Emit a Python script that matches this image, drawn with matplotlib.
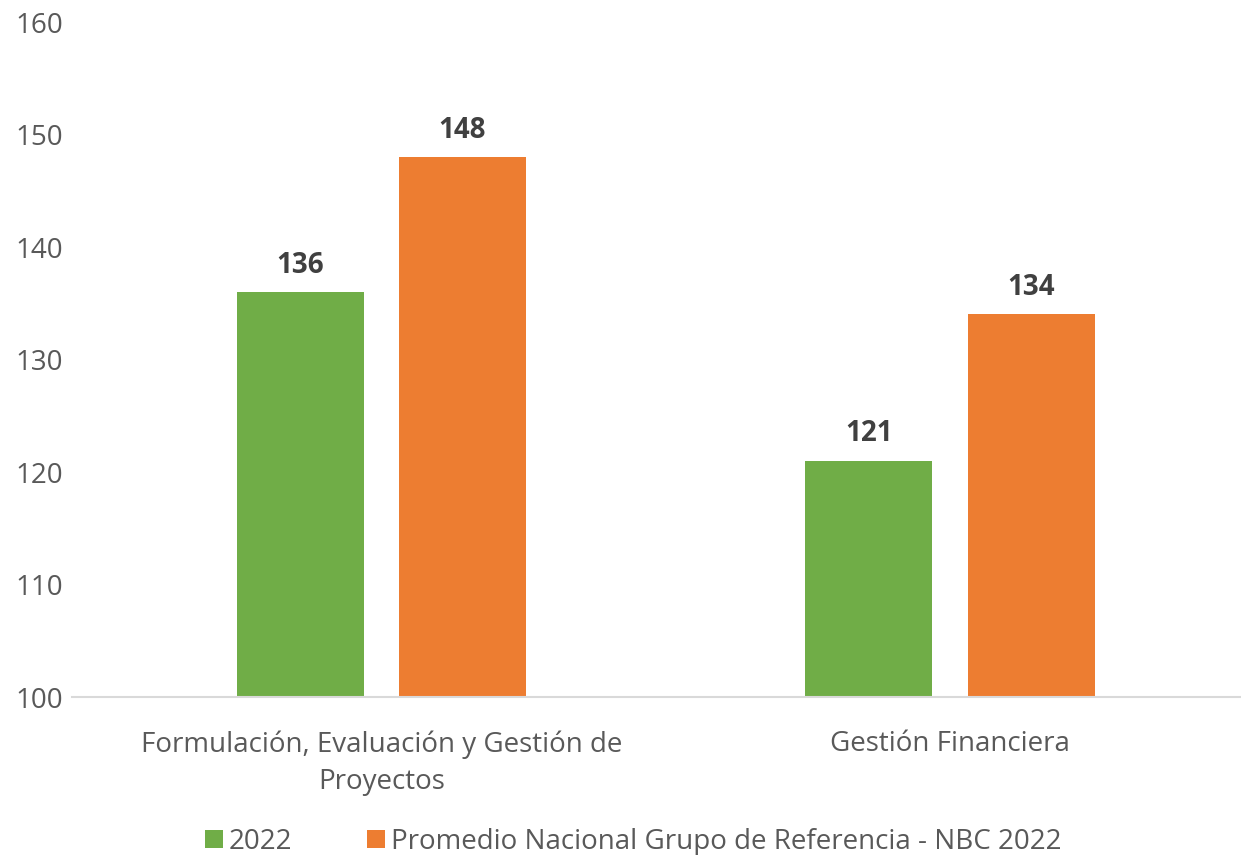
import matplotlib.pyplot as plt
import numpy as np

categories = ["Formulación, Evaluación y Gestión de\nProyectos", "Gestión Financiera"]
series_names = ["2022", "Promedio Nacional Grupo de Referencia - NBC 2022"]
values_2022 = [136, 121]
values_promedio = [148, 134]
y_ticks = [100, 110, 120, 130, 140, 150, 160]

green = "#70AD47"
orange = "#ED7D31"
text_grey = "#595959"

plt.rcParams['font.family'] = ['Open Sans', 'DejaVu Sans']

fig = plt.figure(figsize=(12.41, 8.55), dpi=100)
ax = fig.add_axes([72 / 1241, 158 / 855, 1169 / 1241, 675 / 855])

x = np.arange(len(categories))
w = 0.2234
off = 0.1428
b1 = ax.bar(x - off, np.array(values_2022) - 100, w, bottom=100, color=green, label=series_names[0])
b2 = ax.bar(x + off, np.array(values_promedio) - 100, w, bottom=100, color=orange, label=series_names[1])

for bars, vals in [(b1, values_2022), (b2, values_promedio)]:
    for rect, v in zip(bars, vals):
        ax.annotate(str(v), (rect.get_x() + rect.get_width() / 2, v),
                    xytext=(0, 9), textcoords="offset points",
                    ha="center", va="bottom", fontsize=20, fontweight="bold",
                    color="#404040")

ax.set_ylim(100, 160)
ax.set_xlim(-0.544, 1.512)
ax.set_yticks(y_ticks)
ax.set_xticks(x)
ax.set_xticklabels(categories, fontsize=20, color=text_grey, linespacing=1.45)
ax.tick_params(axis="y", labelsize=20, labelcolor=text_grey, length=0)
ax.tick_params(axis="x", length=0, pad=24)
for lbl in ax.get_yticklabels():
    lbl.set_horizontalalignment("left")
    lbl.set_x(-52 / 1169)

for s in ["top", "right", "left"]:
    ax.spines[s].set_visible(False)
ax.spines["bottom"].set_color("#D9D9D9")
ax.spines["bottom"].set_linewidth(1.5)
ax.set_facecolor("none")

fig.legend(handles=[b1, b2], labels=series_names, loc="lower center",
           bbox_to_anchor=(0.51, -0.03), ncol=2, frameon=False,
           fontsize=20, labelcolor=text_grey, handlelength=0.65, handleheight=0.65,
           handletextpad=0.2, columnspacing=2.7)

fig.savefig("out.png", dpi=100)
